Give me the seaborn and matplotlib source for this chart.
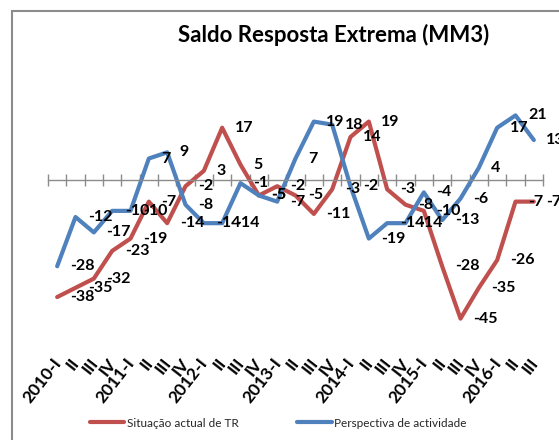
import matplotlib
matplotlib.use("Agg")
import matplotlib.pyplot as plt
import matplotlib.transforms as mtransforms
from matplotlib.patches import Rectangle
import numpy as np
import pandas as pd
import seaborn as sns

# ---- data ----
quarters = ["2010-I", "II", "III", "IV", "2011-I", "II", "III", "IV",
            "2012-I", "II", "III", "IV", "2013-I", "II", "III", "IV",
            "2014-I", "II", "III", "IV", "2015-I", "II", "III", "IV",
            "2016-I", "II", "III"]
situacao = [-38, -35, -32, -23, -19, -7, -14, -2, 3, 17, 5, -5, -2, -5, -11, -3,
            14, 19, -3, -8, -10, -28, -45, -35, -26, -7, -7]
perspectiva = [-28, -12, -17, -10, -10, 7, 9, -8, -14, -14, -1, -5, -7, 7, 19, 18,
               -2, -19, -14, -14, -4, -13, -6, 4, 17, 21, 13]
series_names = ["Situação actual de TR", "Perspectiva de actividade"]
title = "Saldo Resposta Extrema (MM3)"

RED = "#C0504D"
BLUE = "#4F81BD"
GRAY = "#8C8C8C"

sns.set_theme(style="white")
plt.rcParams["font.family"] = ["Lato", "DejaVu Sans"]

df = pd.DataFrame({
    "idx": list(range(len(quarters))) * 2,
    "value": situacao + perspectiva,
    "series": [series_names[0]] * len(quarters) + [series_names[1]] * len(quarters),
})

W, H = 559, 440
fig = plt.figure(figsize=(W / 100, H / 100), dpi=100)
fig.patch.set_facecolor("white")

# axes placement (pixels from top-left)
ax_left, ax_right = 48, 543
ax_top, ax_bottom = 60, 330
ax = fig.add_axes([ax_left / W, 1 - ax_bottom / H, (ax_right - ax_left) / W,
                   (ax_bottom - ax_top) / H])
ax.set_facecolor("none")

sns.lineplot(data=df, x="idx", y="value", hue="series",
             palette={series_names[0]: RED, series_names[1]: BLUE},
             linewidth=3.0, legend=False, ax=ax)

ax.set_xlim(-0.5, len(quarters) - 0.5)
ax.set_ylim(-48.7, 39.0)
ax.set_xlabel("")
ax.set_ylabel("")
ax.set_yticks([])

for s in ["top", "right", "left"]:
    ax.spines[s].set_visible(False)
ax.spines["bottom"].set_position(("data", 0))
ax.spines["bottom"].set_color(GRAY)
ax.spines["bottom"].set_linewidth(1.0)
ax.set_xticks(np.arange(-0.5, len(quarters), 1.0))
ax.tick_params(axis="x", direction="inout", length=9, width=1.0, color=GRAY,
               labelbottom=False, bottom=True)

# data labels (to the right of each point)
for vals, col in [(situacao, RED), (perspectiva, BLUE)]:
    for i, v in enumerate(vals):
        ax.annotate(str(v), (i, v), xytext=(9, 0), textcoords="offset points",
                    ha="left", va="center", fontsize=11.5, fontweight="bold",
                    color="black", zorder=5)

# category labels at the bottom, rotated
trans = mtransforms.blended_transform_factory(ax.transData, fig.transFigure)
for i, lab in enumerate(quarters):
    ax.text(i + 0.05, 1 - 360 / H, lab, transform=trans, rotation=52,
            rotation_mode="anchor", ha="right", va="center", fontsize=12.5,
            fontweight="bold", color="black", clip_on=False)

# title
fig.text(334 / W, 1 - 35 / H, title, ha="center", va="center", fontsize=16,
         fontweight="bold", color="black")

# legend
handles = ax.get_lines()[:2]
fig.legend(handles, series_names, loc="center left",
           bbox_to_anchor=(90 / W, 1 - 423 / H), ncol=2, frameon=False,
           fontsize=8.5, handlelength=2.9, handletextpad=0.2, columnspacing=5.0,
           borderaxespad=0, borderpad=0)

# outer chart frame (extends beyond the image on right and bottom)
fig.patches.append(Rectangle((12 / W, -0.2), 1.5, 1.2 - 11 / H,
                             transform=fig.transFigure, fill=False,
                             edgecolor=GRAY, linewidth=1.5))

fig.savefig("out.png", dpi=100)
